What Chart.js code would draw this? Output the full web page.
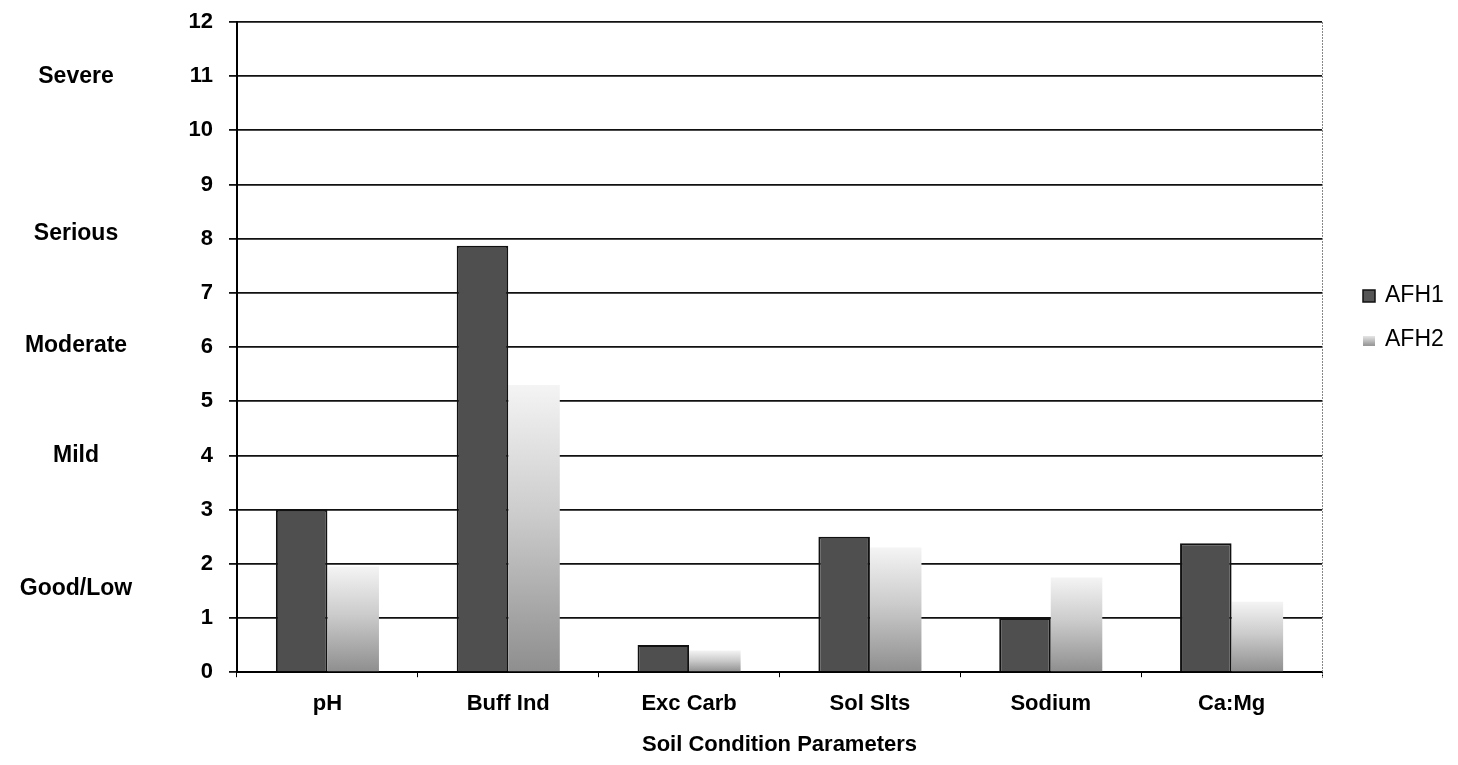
<!DOCTYPE html>
<html>
<head>
<meta charset="utf-8">
<title>Soil Condition Parameters</title>
<script src="https://cdn.jsdelivr.net/npm/chart.js@4.4.1/dist/chart.umd.min.js"></script>
<style>
  html, body { margin: 0; padding: 0; background: #fff; }
  #wrap { width: 1458px; height: 765px; }
</style>
</head>
<body>
<div id="wrap"><canvas id="soilChart"></canvas></div>
<script>
// data
var categories = ['pH', 'Buff Ind', 'Exc Carb', 'Sol Slts', 'Sodium', 'Ca:Mg'];
var afh1 = [3.0, 7.87, 0.5, 2.5, 1.0, 2.38];
var afh2 = [1.95, 5.3, 0.4, 2.3, 1.75, 1.3];
var yTicks = [0, 1, 2, 3, 4, 5, 6, 7, 8, 9, 10, 11, 12];
var severityNames = ['Severe', 'Serious', 'Moderate', 'Mild', 'Good/Low'];
var severityLevels = [11, 8.1, 6.03, 4.0, 1.55];

var FONT = '"Liberation Sans", Arial, sans-serif';

// light-top / dark-bottom fill for AFH2, one gradient per bar
function afh2Fill(ctx) {
  var chart = ctx.chart;
  var y = chart.scales.y;
  if (!y || ctx.raw == null) return '#c0c0c0';
  var top = y.getPixelForValue(ctx.raw);
  var bot = y.getPixelForValue(0);
  if (!isFinite(top) || !isFinite(bot) || top === bot) return '#c0c0c0';
  var g = chart.ctx.createLinearGradient(0, top, 0, bot);
  g.addColorStop(0, '#f4f4f4');
  g.addColorStop(0.45, '#cccccc');
  g.addColorStop(1, '#8e8e8e');
  return g;
}

// severity words on the far left, placed with the y scale
var severityPlugin = {
  id: 'severity',
  afterDraw: function(chart) {
    var c = chart.ctx, y = chart.scales.y;
    c.save();
    c.font = 'bold 23px ' + FONT;
    c.fillStyle = '#000';
    c.textAlign = 'center';
    c.textBaseline = 'middle';
    for (var i = 0; i < severityNames.length; i++) {
      c.fillText(severityNames[i], 76, y.getPixelForValue(severityLevels[i]));
    }
    c.restore();
  }
};

// thin grey right border of the plot
var framePlugin = {
  id: 'frame',
  beforeDatasetsDraw: function(chart) {
    var a = chart.chartArea, c = chart.ctx;
    c.save();
    c.strokeStyle = '#888';
    c.lineWidth = 1;
    c.setLineDash([2, 1]);
    c.beginPath();
    c.moveTo(a.right + 0.5, a.top);
    c.lineTo(a.right + 0.5, a.bottom + 6);
    c.stroke();
    c.restore();
  }
};

// legend on the right
var legendPlugin = {
  id: 'sideLegend',
  afterDraw: function(chart) {
    var c = chart.ctx;
    var rows = [296, 340];
    c.save();
    c.font = '23px ' + FONT;
    c.textBaseline = 'middle';
    c.textAlign = 'left';
    chart.data.datasets.forEach(function(ds, i) {
      var cy = rows[i];
      if (i === 0) {
        c.fillStyle = '#555';
        c.fillRect(1363, cy - 6, 12, 12);
        c.strokeStyle = '#111';
        c.lineWidth = 1.5;
        c.strokeRect(1363, cy - 6, 12, 12);
      } else {
        var g = c.createLinearGradient(0, cy - 5, 0, cy + 5);
        g.addColorStop(0, '#eee');
        g.addColorStop(1, '#999');
        c.fillStyle = g;
        c.fillRect(1363, cy - 4, 12, 10);
      }
      c.fillStyle = '#000';
      c.fillText(ds.label, 1385, cy);
    });
    c.restore();
  }
};

var ctx = document.getElementById('soilChart').getContext('2d');

var soilChart = new Chart(ctx, {
  type: 'bar',
  data: {
    labels: categories,
    datasets: [{
      label: 'AFH1',
      data: afh1,
      backgroundColor: '#4f4f4f',
      borderColor: '#111111',
      borderWidth: 2,
      borderSkipped: 'bottom'
    }, {
      label: 'AFH2',
      data: afh2,
      backgroundColor: afh2Fill,
      borderWidth: 0
    }]
  },
  options: {
    responsive: true,
    maintainAspectRatio: false,
    devicePixelRatio: 1,
    animation: false,
    categoryPercentage: 0.57,
    barPercentage: 1.0,
    layout: { padding: { left: 0, right: 136, top: 22, bottom: 7 } },
    plugins: {
      legend: { display: false },
      tooltip: { enabled: false }
    },
    scales: {
      x: {
        grid: {
          offset: true,
          drawOnChartArea: false,
          drawTicks: true,
          tickLength: 5,
          color: '#000'
        },
        border: { display: true, color: '#000', width: 2 },
        ticks: {
          color: '#000',
          padding: 14,
          font: { family: FONT, size: 22, weight: 'bold' }
        },
        title: {
          display: true,
          text: 'Soil Condition Parameters',
          color: '#000',
          padding: { top: 0, bottom: 0 },
          font: { family: FONT, size: 22, weight: 'bold' }
        }
      },
      y: {
        min: 0,
        max: 12,
        afterBuildTicks: function(scale) {
          scale.ticks = yTicks.map(function(v) { return { value: v }; });
        },
        afterFit: function(scale) { scale.width = 237; },
        grid: {
          color: '#111',
          lineWidth: 1.8,
          tickLength: 8
        },
        border: { display: true, color: '#000', width: 2 },
        ticks: {
          color: '#000',
          padding: 16,
          font: { family: FONT, size: 22, weight: 'bold', lineHeight: 0.5 }
        }
      }
    }
  },
  plugins: [framePlugin, severityPlugin, legendPlugin]
});
</script>
</body>
</html>
